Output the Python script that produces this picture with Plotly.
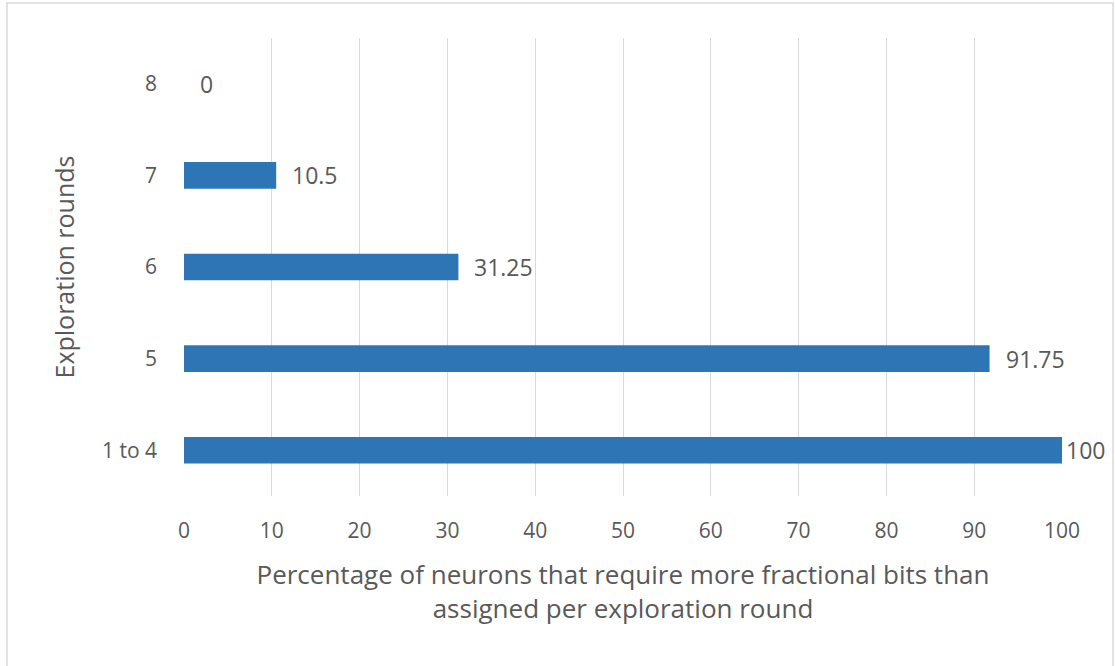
import plotly.graph_objects as go

# Exploration rounds and share of neurons needing extra fractional bits
rounds = ["1 to 4", "5", "6", "7", "8"]
percent = [100, 91.75, 31.25, 10.5, 0]
x_ticks = [0, 10, 20, 30, 40, 50, 60, 70, 80, 90, 100]

FONT = "Open Sans"
GREY = "#595959"
BLUE = "#2E75B6"

fig = go.Figure()
fig.add_trace(go.Bar(
    y=rounds,
    x=percent,
    orientation="h",
    marker=dict(color=BLUE, line=dict(width=0)),
    width=0.29,
    hoverinfo="x+y",
))

# value labels just right of each bar end (category axis -> position by index)
for i, v in enumerate(percent):
    fig.add_annotation(
        x=v, y=i, xref="x", yref="y",
        text=f"{v:g}",
        showarrow=False,
        xanchor="left", yanchor="middle",
        xshift=14 if v < 100 else 2,
        font=dict(family=FONT, size=23, color=GREY),
    )

# light outer frame around the chart area
fig.add_shape(
    type="rect", xref="paper", yref="paper",
    x0=(7 - 184) / 878, x1=(1113 - 184) / 878,
    y0=(496 - 672) / 458, y1=(496 - 3) / 458,
    line=dict(color="#D9D9D9", width=1.5),
    fillcolor="rgba(0,0,0,0)",
    layer="below",
)

fig.update_layout(
    width=1115, height=666,
    margin=dict(l=184, r=53, t=38, b=170),
    paper_bgcolor="white",
    plot_bgcolor="white",
    showlegend=False,
    font=dict(family=FONT, color=GREY),
    bargap=0.71,
    xaxis=dict(
        range=[0, 100],
        tickvals=x_ticks,
        ticktext=[str(t) for t in x_ticks],
        showgrid=True,
        gridcolor="#D9D9D9",
        gridwidth=1,
        zeroline=False,
        showline=False,
        ticks="",
        tickfont=dict(family=FONT, size=21, color=GREY),
        ticklabelstandoff=20,
        title=dict(
            text="Percentage of neurons that require more fractional bits than<br>assigned per exploration round",
            font=dict(family=FONT, size=26, color=GREY),
            standoff=22,
        ),
    ),
    yaxis=dict(
        type="category",
        categoryorder="array",
        categoryarray=rounds,
        range=[-0.5, len(rounds) - 0.5],
        showgrid=False,
        zeroline=False,
        showline=False,
        ticks="",
        tickfont=dict(family=FONT, size=21, color=GREY),
        ticklabelstandoff=26,
        title=dict(
            text="Exploration rounds",
            font=dict(family=FONT, size=25, color=GREY),
            standoff=20,
        ),
    ),
)

fig.write_html("out.html")
